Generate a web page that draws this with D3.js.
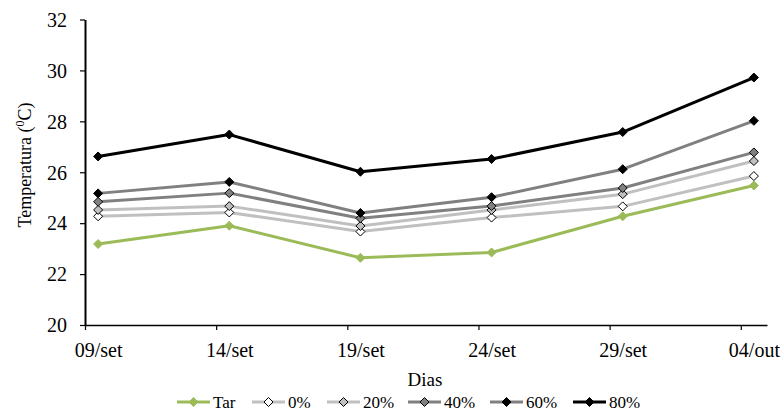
<!DOCTYPE html>
<html>
<head>
<meta charset="utf-8">
<script src="https://cdn.jsdelivr.net/npm/d3@7"></script>
<style>
  html, body { margin: 0; padding: 0; background: #fff; }
  svg { display: block; }
  text { font-family: "Liberation Serif", "Times New Roman", serif; fill: #000; }
</style>
</head>
<body>
<svg id="chart" width="784" height="414"></svg>
<script>
// ---- data ----
const categories = ["09/set", "14/set", "19/set", "24/set", "29/set", "04/out"];
const dayOffsets = [0, 5, 10, 15, 20, 25]; // days after 09/set
const yTicks = [20, 22, 24, 26, 28, 30, 32];
const seriesNames = ["Tar", "0%", "20%", "40%", "60%", "80%"];
const tar  = [23.18, 23.90, 22.64, 22.85, 24.27, 25.48];
const p0   = [24.27, 24.42, 23.67, 24.22, 24.66, 25.85];
const p20  = [24.52, 24.67, 23.89, 24.52, 25.14, 26.44];
const p40  = [24.84, 25.18, 24.19, 24.67, 25.38, 26.78];
const p60  = [25.17, 25.62, 24.40, 25.02, 26.12, 28.02];
const p80  = [26.62, 27.48, 26.02, 26.52, 27.58, 29.72];

const styles = {
  "Tar": {line: "#9bbb59", fill: "#9bbb59", stroke: "#9bbb59"},
  "0%":  {line: "#c0c0c0", fill: "#ffffff", stroke: "#000"},
  "20%": {line: "#c0c0c0", fill: "#c0c0c0", stroke: "#000"},
  "40%": {line: "#808080", fill: "#808080", stroke: "#000"},
  "60%": {line: "#808080", fill: "#000000", stroke: "#000"},
  "80%": {line: "#000000", fill: "#000000", stroke: "#000"}
};
const seriesValues = [tar, p0, p20, p40, p60, p80];

const start = new Date(2012, 8, 9);
const end = new Date(2012, 9, 5);
const dates = dayOffsets.map(d => d3.timeDay.offset(start, d));

const svg = d3.select("#chart");
const x = d3.scaleTime().domain([start, end]).range([85, 767]);
const y = d3.scaleLinear().domain([20, 32]).range([325, 19.5]);
const halfDay = (x(d3.timeDay.offset(start, 1)) - x(start)) / 2;

// axes
const yAxis = svg.append("g").attr("transform", "translate(85,0)")
  .call(d3.axisLeft(y).tickValues(yTicks).tickSize(5).tickSizeOuter(0).tickPadding(13));
yAxis.select(".domain").attr("stroke", "#000").attr("stroke-width", 2);
yAxis.selectAll(".tick line").attr("stroke", "#000").attr("stroke-width", 1.2);
yAxis.selectAll(".tick text").attr("font-size", 20).attr("font-family", "Liberation Serif").attr("dy", "0.34em");

const xAxis = svg.append("g").attr("transform", "translate(0,325)")
  .call(d3.axisBottom(x).tickValues(dates).tickSize(5).tickSizeOuter(0)
    .tickFormat((d, i) => categories[i]));
xAxis.select(".domain").attr("stroke", "#000").attr("stroke-width", 1.4);
xAxis.selectAll(".tick line").attr("stroke", "#000").attr("stroke-width", 1.2);
xAxis.selectAll(".tick text").attr("font-size", 20).attr("font-family", "Liberation Serif")
  .attr("x", halfDay).attr("y", 32).attr("dy", 0);
yAxis.raise();

// axis titles
svg.append("text").attr("x", 425).attr("y", 386).attr("text-anchor", "middle")
  .attr("font-size", 19).text("Dias");
const yt = svg.append("text").attr("transform", "translate(31,165) rotate(-90)")
  .attr("text-anchor", "middle").attr("font-size", 18);
yt.append("tspan").text("Temperatura (");
yt.append("tspan").attr("font-size", 12).attr("dy", -7).text("0");
yt.append("tspan").attr("dy", 7).text("C)");

// series
const diamond = "M0,-4.5L4.5,0L0,4.5L-4.5,0Z";
const line = d3.line().x((d, i) => x(dates[i]) + halfDay).y(d => y(d));
seriesNames.forEach((name, si) => {
  const st = styles[name];
  const vals = seriesValues[si];
  const g = svg.append("g");
  g.append("path").datum(vals).attr("d", line).attr("fill", "none")
    .attr("stroke", st.line).attr("stroke-width", 3).attr("stroke-linejoin", "round");
  g.selectAll("path.m").data(vals).join("path").attr("class", "m")
    .attr("d", diamond)
    .attr("transform", (d, i) => `translate(${x(dates[i]) + halfDay},${y(d)})`)
    .attr("fill", st.fill).attr("stroke", st.stroke).attr("stroke-width", 1);
});

// legend
const legendX = [177, 252, 327, 408, 490, 573];
const leg = svg.append("g");
seriesNames.forEach((name, i) => {
  const st = styles[name];
  const g = leg.append("g").attr("transform", `translate(${legendX[i]},402)`);
  g.append("line").attr("x1", 0).attr("x2", 33).attr("y1", 0).attr("y2", 0)
    .attr("stroke", st.line).attr("stroke-width", 3);
  g.append("path").attr("d", diamond).attr("transform", "translate(16.5,0)")
    .attr("fill", st.fill).attr("stroke", st.stroke).attr("stroke-width", 1);
  g.append("text").attr("x", 36).attr("y", 6).attr("font-size", 17).text(name);
});
</script>
</body>
</html>
